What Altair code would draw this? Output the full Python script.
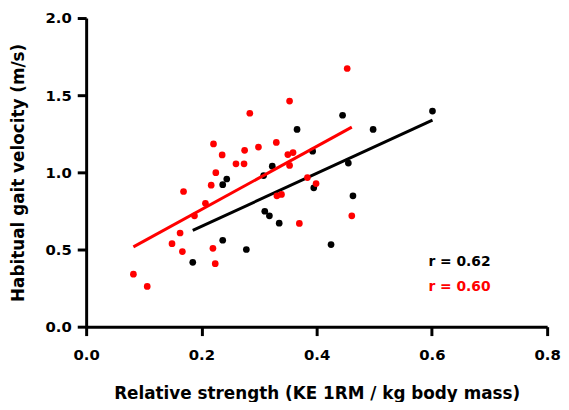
import altair as alt
import pandas as pd

# Black series (points)
black_x = [0.185, 0.237, 0.278, 0.237, 0.244, 0.308, 0.310, 0.318, 0.335, 0.323,
           0.366, 0.393, 0.395, 0.425, 0.445, 0.455, 0.463, 0.498, 0.601]
black_y = [0.417, 0.560, 0.500, 0.920, 0.957, 0.979, 0.748, 0.718, 0.671, 1.040,
           1.278, 1.137, 0.900, 0.532, 1.370, 1.060, 0.848, 1.278, 1.397]

# Red series (points)
red_x = [0.082, 0.106, 0.149, 0.163, 0.167, 0.169, 0.188, 0.207, 0.217, 0.220,
         0.224, 0.221, 0.225, 0.236, 0.260, 0.274, 0.275, 0.284, 0.299, 0.330,
         0.331, 0.339, 0.350, 0.353, 0.353, 0.359, 0.370, 0.384, 0.399, 0.453, 0.461]
red_y = [0.340, 0.261, 0.538, 0.607, 0.487, 0.876, 0.718, 0.799, 0.917, 0.508,
         0.408, 1.184, 0.998, 1.113, 1.055, 1.055, 1.143, 1.383, 1.164, 1.194,
         0.848, 0.857, 1.115, 1.045, 1.462, 1.128, 0.669, 0.966, 0.927, 1.673, 0.718]

# Regression line endpoints
black_fit_x = [0.185, 0.601]
black_fit_y = [0.624, 1.338]
red_fit_x = [0.082, 0.461]
red_fit_y = [0.517, 1.293]

# Annotations
ann_text = ["r = 0.62", "r = 0.60"]
ann_x = [0.594, 0.594]
ann_y = [0.417, 0.256]
ann_color = ["#000000", "#FF0000"]

x_ticks = [0.0, 0.2, 0.4, 0.6, 0.8]
y_ticks = [0.0, 0.5, 1.0, 1.5, 2.0]

FONT = "DejaVu Sans"

black_df = pd.DataFrame({"x": black_x, "y": black_y})
red_df = pd.DataFrame({"x": red_x, "y": red_y})
bfit = pd.DataFrame({"x": black_fit_x, "y": black_fit_y})
rfit = pd.DataFrame({"x": red_fit_x, "y": red_fit_y})
ann = pd.DataFrame({"x": ann_x, "y": ann_y, "t": ann_text, "c": ann_color})

xs = alt.Scale(domain=[0, 0.8], nice=False, zero=False)
ys = alt.Scale(domain=[0, 2.0], nice=False, zero=False)

xaxis = alt.Axis(values=x_ticks, format=".1f", title="Relative strength (KE 1RM / kg body mass)",
                 grid=False, domainColor="black", domainWidth=3, tickColor="black", tickWidth=3,
                 tickSize=9, labelPadding=12, labelFont=FONT, labelFontSize=15, labelFontWeight="bold",
                 labelColor="black", titleFont=FONT, titleFontSize=17, titleFontWeight="bold",
                 titleColor="black", titlePadding=24, labelFlush=False)
yaxis = alt.Axis(values=y_ticks, format=".1f", title="Habitual gait velocity (m/s)",
                 grid=False, domainColor="black", domainWidth=3, tickColor="black", tickWidth=3,
                 tickSize=9, labelPadding=6, labelFont=FONT, labelFontSize=15, labelFontWeight="bold",
                 labelColor="black", titleFont=FONT, titleFontSize=17, titleFontWeight="bold",
                 titleColor="black", titlePadding=18, labelFlush=False)

X = alt.X("x:Q", scale=xs, axis=xaxis)
Y = alt.Y("y:Q", scale=ys, axis=yaxis)

pb = alt.Chart(black_df).mark_circle(size=46, color="#000000", opacity=1).encode(x=X, y=Y)
pr = alt.Chart(red_df).mark_circle(size=46, color="#FF0000", opacity=1).encode(x="x:Q", y="y:Q")
lb = alt.Chart(bfit).mark_line(color="#000000", strokeWidth=3).encode(x="x:Q", y="y:Q")
lr = alt.Chart(rfit).mark_line(color="#FF0000", strokeWidth=3).encode(x="x:Q", y="y:Q")
tx = alt.Chart(ann).mark_text(align="left", baseline="middle", font=FONT, fontSize=14,
                              fontWeight="bold").encode(
    x="x:Q", y="y:Q", text="t:N", color=alt.Color("c:N", scale=None))

chart = alt.layer(pb, lb, pr, lr, tx).properties(
    width=466, height=312,
    autosize=alt.AutoSizeParams(type="none"),
    padding={"left": 79, "top": 8, "right": 14, "bottom": 74},
).configure_view(stroke=None)

chart.save("out.html", embed_options={"renderer": "svg", "actions": False})
